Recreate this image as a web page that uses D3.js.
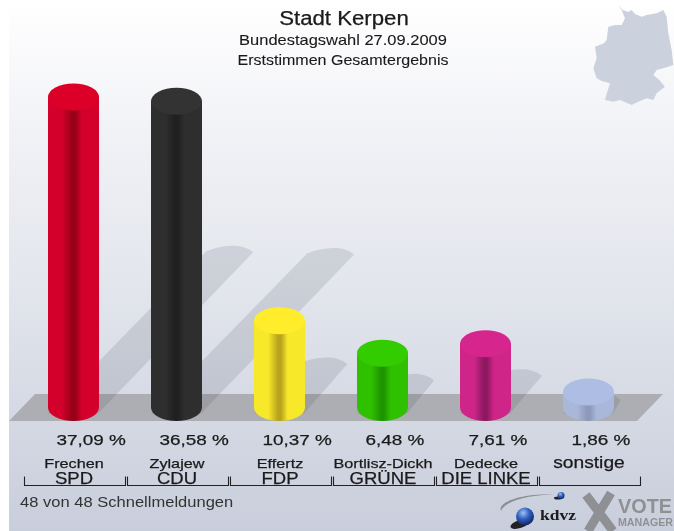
<!DOCTYPE html>
<html><head><meta charset="utf-8">
<style>html,body{margin:0;padding:0;background:#fff}svg{display:block;filter:blur(.35px)}text{font-family:"Liberation Sans",Arial,sans-serif;fill:#1a1a1a}</style>
<script src="https://cdn.jsdelivr.net/npm/d3@7/dist/d3.min.js"></script>
</head><body><div id="c"></div>
<script>
const parties=["SPD","CDU","FDP","GRÜNE","DIE LINKE",""];
const candidates=["Frechen","Zylajew","Effertz","Bortlisz-Dickh","Dedecke","sonstige"];
const values=[37.09,36.58,10.37,6.48,7.61,1.86];
const valueLabels=["37,09 %","36,58 %","10,37 %","6,48 %","7,61 %","1,86 %"];
const topColors=["#dc0028","#333333","#ffed2b","#33cc00","#d6268e","#aebde3"];
const edgeColors=["#d2002a","#2e2e2e","#f8e82a","#2fc000","#cf2488","#a9b7da"];
const darkColors=["#960018","#202020","#b8a31c","#1e9400","#8c1860","#8d99b8"];
const titleLines=["Bundestagswahl 27.09.2009","Erststimmen Gesamtergebnis"];
const germany=[[355,15],[368,30],[385,36],[395,30],[405,42],[425,50],[440,45],[470,40],[490,30],[500,50],[503,80],[505,100],[515,150],[520,195],[495,203],[470,210],[460,225],[478,240],[495,260],[470,280],[460,300],[440,295],[415,305],[395,315],[360,300],[340,305],[315,300],[322,275],[330,250],[305,243],[290,235],[280,205],[290,175],[285,140],[312,130],[320,120],[325,80],[345,75],[365,75],[375,55],[365,30]];

const W=674,H=531,rx=25.5,ry=13.5,base=407.5;
const svg=d3.select("#c").append("svg").attr("width",W).attr("height",H);
const defs=svg.append("defs");
const bg=defs.append("linearGradient").attr("id","bg").attr("x1",0).attr("x2",0).attr("y1",0).attr("y2",1);
[[0,"#ffffff"],[.25,"#f1f2f6"],[.55,"#e2e5ec"],[.8,"#d4d8e3"],[1,"#c9cedc"]].forEach(s=>bg.append("stop").attr("offset",s[0]).attr("stop-color",s[1]));
const soft=defs.append("filter").attr("id","soft").attr("x","-5%").attr("y","-5%").attr("width","110%").attr("height","110%");
soft.append("feGaussianBlur").attr("stdDeviation",.5);

// widen text horizontally, as the reference's stretched type
function stretch(sel,k,sw){
  sel.attr("lengthAdjust","spacingAndGlyphs").attr("stroke","#1a1a1a").attr("stroke-width",sw===undefined?.25:sw)
     .attr("textLength",function(d,i){return this.getComputedTextLength()*(typeof k==="function"?k(d,i):k);});
}

svg.append("rect").attr("x",9).attr("y",0).attr("width",W-9).attr("height",H).attr("fill","url(#bg)");

// Germany silhouette (crop coordinates, 3x)
const mapX=d3.scaleLinear([0,174],[500,674]), mapY=d3.scaleLinear([0,120],[0,120]);
svg.append("path").attr("d",d3.line().curve(d3.curveLinearClosed)(germany.map(p=>[mapX(p[0]/3),mapY(p[1]/3)]))).attr("fill","#ccd1de").attr("filter","url(#soft)");

const x=d3.scaleBand().domain(candidates).range([22.5,640.5]).padding(0);
const y=d3.scaleLinear().domain([0,40]).range([base,base-334.8]);
const cx=d=>x(d)+x.bandwidth()/2-0.5;

// floor
svg.append("path").attr("d","M9 421L35 394H663L637 421Z").attr("fill","#adaeb3");

const rows=values.map((v,i)=>({v,i,name:candidates[i],top:y(v),c:cx(candidates[i])}));

// shadows
svg.append("g").selectAll("path").data(rows).join("path")
 .attr("fill","rgba(50,55,70,.13)")
 .attr("d",d=>{const h=(base-d.top)/2,l=d.c-rx,r=d.c+rx-1,t=base-h;
   return `M${l} ${base+6}L${l+h+3} ${t-1}C${l+h+18} ${t-7} ${l+h+38} ${t-10} ${r+h} ${t}L${r} ${base+6}Z`;});

// cylinders
rows.forEach(d=>{
  const g=defs.append("linearGradient").attr("id","g"+d.i);
  [[0,edgeColors[d.i]],[.28,edgeColors[d.i]],[.47,darkColors[d.i]],[.53,darkColors[d.i]],[.66,edgeColors[d.i]],[1,edgeColors[d.i]]]
   .forEach(s=>g.append("stop").attr("offset",s[0]).attr("stop-color",s[1]));
});
const bars=svg.append("g").selectAll("g").data(rows).join("g");
bars.append("path").attr("fill",d=>`url(#g${d.i})`)
 .attr("d",d=>`M${d.c-rx} ${d.top}V${base}A${rx} ${ry} 0 0 0 ${d.c+rx} ${base}V${d.top}Z`);
bars.append("ellipse").attr("cx",d=>d.c).attr("cy",d=>d.top).attr("rx",rx).attr("ry",ry).attr("fill",d=>topColors[d.i]);

// value labels
svg.append("g").selectAll("text").data(rows).join("text")
 .attr("x",d=>d.c-17).attr("y",445).attr("font-size",15.5)
 .text(d=>valueLabels[d.i]).call(stretch,1.22);

// bracket axis
svg.append("g").selectAll("path").data(candidates).join("path")
 .attr("fill","none").attr("stroke","#222").attr("stroke-width",1.1)
 .attr("d",d=>`M${x(d)+2} 476.5V485.5H${x(d)+x.bandwidth()}V476.5`);

// candidate + party names
svg.append("g").selectAll("text").data(candidates).join("text")
 .attr("x",d=>x(d)+x.bandwidth()/2).attr("y",(d,i)=>i==5?468:467.5).attr("text-anchor","middle")
 .attr("font-size",(d,i)=>i==5?16:13.5)
 .text(d=>d).call(stretch,1.2);
svg.append("g").selectAll("text").data(parties).join("text")
 .attr("x",(d,i)=>x(candidates[i])+x.bandwidth()/2).attr("y",484).attr("text-anchor","middle")
 .attr("font-size",16.5).text(d=>d).call(stretch,1.12);

// titles
svg.append("text").attr("x",344).attr("y",25).attr("text-anchor","middle").attr("font-size",20).text("Stadt Kerpen").call(stretch,1.11);
svg.append("g").selectAll("text").data(titleLines).join("text").attr("x",343).attr("y",(d,i)=>45+i*19.5).attr("text-anchor","middle").attr("font-size",14.5).text(d=>d).call(stretch,(d,i)=>i?1.105:1.135,.1);
svg.append("text").attr("x",20).attr("y",507).attr("font-size",14.5).style("fill","#333").text("48 von 48 Schnellmeldungen").call(stretch,1.14,0);

// logos
const sph=defs.append("radialGradient").attr("id","sph").attr("cx",.4).attr("cy",.3).attr("r",.7);
[[0,"#9fc0f0"],[.5,"#2f5fc0"],[1,"#12265e"]].forEach(s=>sph.append("stop").attr("offset",s[0]).attr("stop-color",s[1]));
const logo=svg.append("g").attr("filter","url(#soft)");
logo.append("path").attr("d","M501 511C497 502 520 494 554 494C525 496 505 501 501 511Z").attr("fill","#8d8f96");
logo.append("ellipse").attr("cx",520).attr("cy",524).attr("rx",10).attr("ry",4).attr("fill","#222").attr("transform","rotate(-18 520 524)");
logo.append("circle").attr("cx",525).attr("cy",516.5).attr("r",9).attr("fill","url(#sph)");
logo.append("ellipse").attr("cx",558).attr("cy",498).attr("rx",4).attr("ry",1.5).attr("fill","#222");
logo.append("circle").attr("cx",561).attr("cy",495.5).attr("r",3.5).attr("fill","url(#sph)");
logo.append("text").attr("x",540).attr("y",520).attr("font-size",14).attr("font-weight",700).style("font-family","'Liberation Serif',serif").attr("textLength",36).attr("lengthAdjust","spacingAndGlyphs").text("kdvz");
logo.append("path").attr("d","M586 495L613 531M611 493L588 531").attr("stroke","#8f9094").attr("stroke-width",9).attr("fill","none");
logo.append("text").attr("x",618).attr("y",513).attr("font-size",20).attr("font-weight",700).style("fill","#8f9094").attr("textLength",54).attr("lengthAdjust","spacingAndGlyphs").text("VOTE");
logo.append("text").attr("x",618).attr("y",526).attr("font-size",10).attr("font-weight",700).style("fill","#8f9094").attr("textLength",55).attr("lengthAdjust","spacingAndGlyphs").text("MANAGER");
</script></body></html>
